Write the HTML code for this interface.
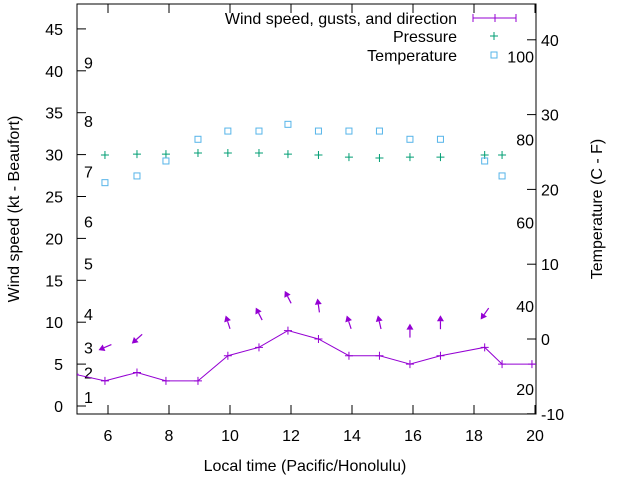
<!DOCTYPE html>
<html><head><meta charset="utf-8"><style>
body{margin:0;background:#fff}
svg{font-family:"Liberation Sans",sans-serif;font-size:16px}
</style></head><body>
<svg id="chart" width="640" height="480">
<defs><clipPath id="clip"><rect x="77" y="4" width="459" height="410"/></clipPath></defs>
</svg>
<script>
const times=[4.9,5.9,6.95,7.9,8.95,9.93,10.95,11.9,12.9,13.9,14.9,15.9,16.9,18.35,18.92,19.9,20.9];
const speeds=[3.8,3,4,3,3,6,7,9,8,6,6,5,6,7,5,5,5];
const gustTimes=[5.9,6.95,9.93,10.95,11.9,12.9,13.9,14.9,15.9,16.9,18.35];
const gusts=[7,8,10,11,13,12,10,10,9,10,11];
const dirs=[67,48,162,153,153,172,162,167,180,180,35];
const obsTimes=[5.9,6.95,7.9,8.95,9.93,10.95,11.9,12.9,13.9,14.9,15.9,16.9,18.35,18.92];
const pressure=[1016.0,1016.6,1016.6,1017.3,1017.3,1017.3,1016.6,1016.0,1014.6,1014.0,1014.6,1014.6,1016.0,1016.0];
const temps=[20.9,21.8,23.8,26.7,27.8,27.8,28.7,27.8,27.8,27.8,26.7,26.7,23.8,21.8];
const xTicks=[6,8,10,12,14,16,18,20];
const yTicks=[0,5,10,15,20,25,30,35,40,45];
const cTicks=[-10,0,10,20,30,40];
const fTicks=[20,40,60,80,100];
const bftLabels=["1","2","3","4","5","6","7","8","9"];
const bftPos=[1.1,4,7,11,17,22,28,34,41];

const svg=document.getElementById('chart');
const NS='http://www.w3.org/2000/svg';
const X=t=>77.5+(t-5)*30.5;
const Y=v=>406-v*8.38;
const YC=c=>339-c*7.48;
const YF=f=>YC((f-32)*5/9);
const YP=p=>155-(p-1016)*1.5;
function mk(tag,attrs,parent){const e=document.createElementNS(NS,tag);for(const k in attrs)e.setAttribute(k,attrs[k]);(parent||svg).appendChild(e);return e;}

const frame=mk('rect',{x:77,y:4,width:459,height:410,fill:'none',stroke:'#000','stroke-width':1});



xTicks.forEach(t=>{
  const x=X(t);
  mk('line',{x1:x,x2:x,y1:414,y2:405,stroke:'#000'});
  mk('line',{x1:x,x2:x,y1:4,y2:13,stroke:'#000'});
  const tx=mk('text',{x:x,y:441,'text-anchor':'middle'});tx.textContent=t;
  
  
});
yTicks.forEach(v=>{
  const y=Y(v);
  mk('line',{x1:77,x2:86,y1:y,y2:y,stroke:'#000'});
  const tx=mk('text',{x:63,y:y+6,'text-anchor':'end'});tx.textContent=v;
  
  
});
cTicks.forEach(c=>{
  const y=YC(c);
  mk('line',{x1:536,x2:527,y1:y,y2:y,stroke:'#000'});
  const tx=mk('text',{x:541,y:y+6,'text-anchor':'start'});tx.textContent=c;
  
  
});
fTicks.forEach(f=>{
  const tx=mk('text',{x:534,y:YF(f)+6,'text-anchor':'end'});tx.textContent=f;
  
  
});
bftLabels.forEach((b,i)=>{
  const tx=mk('text',{x:84,y:Y(bftPos[i])+6});tx.textContent=b;
  
  
});

const g=mk('g',{'clip-path':'url(#clip)'});
const pts=times.map((t,i)=>X(t)+','+Y(speeds[i])).join(' ');
const wl=mk('polyline',{points:pts,fill:'none',stroke:'#9400d3','stroke-width':1},g);


times.forEach((t,i)=>{
  const x=X(t),y=Y(speeds[i]);
  const p=mk('path',{d:`M${x-4},${y}h8M${x},${y-4}v8`,stroke:'#9400d3'},g);
  
  
});
gustTimes.forEach((t,i)=>{
  const cx=X(t),cy=Y(gusts[i]);
  const b=(dirs[i]+180)*Math.PI/180;
  const dx=Math.sin(b),dy=-Math.cos(b),L=7;
  const hx=cx+dx*L,hy=cy+dy*L,tx=cx-dx*L,ty=cy-dy*L;
  const px=-dy,py=dx;
  const bx=hx-dx*6,by=hy-dy*6;
  const a=mk('g',{},g);
  
  
  mk('line',{x1:tx,y1:ty,x2:bx,y2:by,stroke:'#9400d3','stroke-width':1.2},a);
  mk('polygon',{points:`${hx},${hy} ${bx+px*3.5},${by+py*3.5} ${bx-px*3.5},${by-py*3.5}`,fill:'#9400d3'},a);
});
obsTimes.forEach((t,i)=>{
  const x=X(t),y=YP(pressure[i]);
  const p=mk('path',{d:`M${x-4},${y}h8M${x},${y-4}v8`,stroke:'#009e73'},g);
  
  
  const yt=YC(temps[i]);
  const s=mk('rect',{x:x-3,y:yt-3,width:6,height:6,fill:'none',stroke:'#56b4e9'},g);
  
  
});

function lbl(txt,x,y,name,anchor,rot){const t=mk('text',{x:x,y:y,'text-anchor':anchor||'middle'});if(rot)t.setAttribute('transform',`rotate(-90 ${x} ${y})`);t.textContent=txt;return t;}
lbl('Local time (Pacific/Honolulu)',305,471,'x-axis-title');
lbl('Wind speed (kt - Beaufort)',19,209,'y-axis-title','middle',true);
lbl('Temperature (C - F)',602,209,'y2-axis-title','middle',true);

const leg=mk('g',{});


[['Wind speed, gusts, and direction',24],['Pressure',42],['Temperature',61]].forEach(([s,y])=>{const t=mk('text',{x:457,y:y,'text-anchor':'end'},leg);t.textContent=s;});
mk('path',{d:'M473,18h43M473,14v8M495,14v8M516,14v8',stroke:'#9400d3'},leg);
mk('path',{d:'M490,36h8M494,32v8',stroke:'#009e73'},leg);
mk('rect',{x:491,y:52,width:6,height:6,fill:'none',stroke:'#56b4e9'},leg);
</script>
</body></html>
